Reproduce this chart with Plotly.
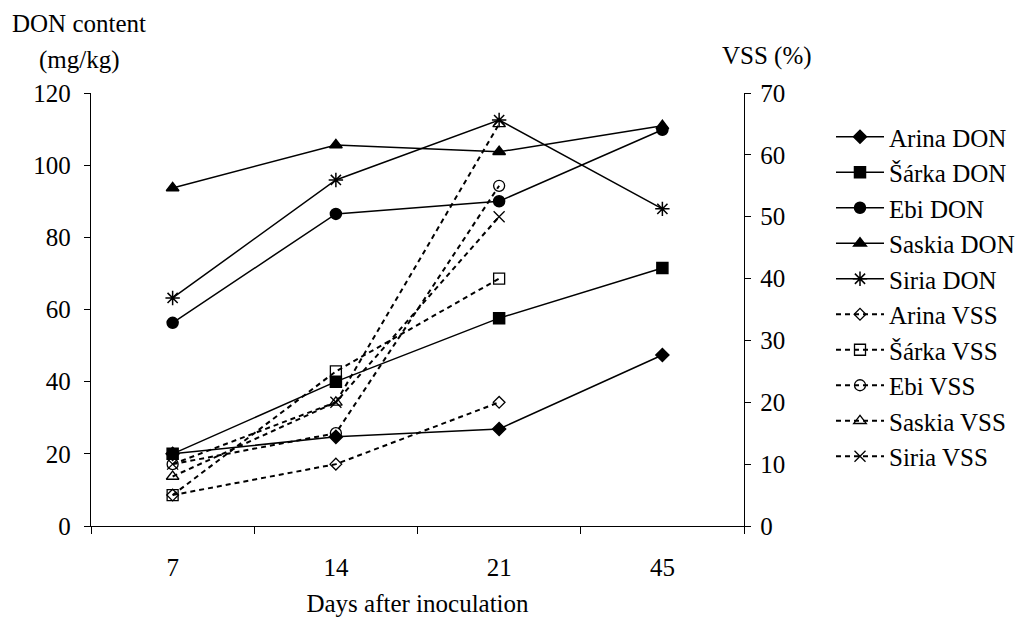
import plotly.graph_objects as go

days = ["7", "14", "21", "45"]

arina_don = [20.0, 24.7, 26.9, 47.4]
sarka_don = [20.0, 40.0, 57.6, 71.5]
ebi_don = [56.3, 86.5, 90.0, 109.8]
saskia_don = [93.7, 105.6, 103.7, 110.9]
siria_don = [63.2, 95.9, 112.5, 87.9]

vss_days = ["7", "14", "21"]
arina_vss = [5.0, 10.0, 20.0]
sarka_vss = [5.0, 25.0, 40.0]
ebi_vss = [10.0, 15.0, 55.0]
saskia_vss = [8.0, 20.0, 65.0]
siria_vss = [10.0, 20.0, 50.0]

don_names = ["Arina DON", "Šárka DON", "Ebi DON", "Saskia DON", "Siria DON"]
vss_names = ["Arina VSS", "Šárka VSS", "Ebi VSS", "Saskia VSS", "Siria VSS"]

FONT = "Liberation Serif"
FS = 25

fig = go.Figure()

don_series = [arina_don, sarka_don, ebi_don, saskia_don, siria_don]
don_symbols = ["diamond", "square", "circle", "triangle-up", "asterisk-open"]
don_sizes = [10, 11, 11, 11, 12]
for name, vals, sym, sz in zip(don_names, don_series, don_symbols, don_sizes):
    fig.add_trace(go.Scatter(
        x=days, y=vals, name=name, mode="lines+markers",
        line=dict(color="black", width=1.5),
        marker=dict(symbol=sym, size=sz, color="black",
                    line=dict(color="black", width=1.5)),
        yaxis="y",
    ))

vss_series = [arina_vss, sarka_vss, ebi_vss, saskia_vss, siria_vss]
vss_symbols = ["diamond-open", "square-open", "circle-open", "triangle-up-open", "x-thin-open"]
vss_sizes = [9, 11, 11, 11, 11]
for name, vals, sym, sz in zip(vss_names, vss_series, vss_symbols, vss_sizes):
    fig.add_trace(go.Scatter(
        x=vss_days, y=vals, name=name, mode="lines+markers",
        line=dict(color="black", width=2, dash="5px,4px"),
        marker=dict(symbol=sym, size=sz, color="black",
                    line=dict(color="black", width=1.3)),
        yaxis="y2",
    ))

OFF = 8  # default page body margin
W, H = 1016, 616
L, R, T, B = 83, 280, 85, 98
pw = W - L - R
ph = H - T - B

def px_x(p):
    return (p - OFF - L) / pw

def px_y(p):
    return (OFF + H - B - p) / ph

fig.update_layout(
    width=W, height=H,
    margin=dict(l=L, r=R, t=T, b=B, autoexpand=False),
    paper_bgcolor="white", plot_bgcolor="white",
    font=dict(family=FONT, size=FS, color="black"),
    showlegend=True,
    legend=dict(
        x=px_x(831), xanchor="left", y=px_y(114), yanchor="top",
        font=dict(family=FONT, size=FS, color="black"),
        tracegroupgap=0, bgcolor="rgba(0,0,0,0)", itemwidth=48,
    ),
    xaxis=dict(
        type="category", categoryorder="array", categoryarray=days,
        range=[-0.5, 3.5], showgrid=False, zeroline=False,
        showline=True, linecolor="black", linewidth=1.3,
        ticks="outside", tickson="boundaries", ticklen=7, tickwidth=1.3,
        tickcolor="black", ticklabelstandoff=19,
        title=dict(text="Days after inoculation", standoff=14,
                   font=dict(family=FONT, size=FS)),
    ),
    yaxis=dict(
        range=[0, 120], dtick=20, showgrid=False, zeroline=False,
        showline=True, linecolor="black", linewidth=1.3,
        ticks="outside", ticklen=6, tickwidth=1.3, tickcolor="black",
        ticklabelstandoff=8,
    ),
    yaxis2=dict(
        range=[0, 70], dtick=10, overlaying="y", side="right",
        showgrid=False, zeroline=False,
        showline=True, linecolor="black", linewidth=1.3,
        ticks="outside", ticklen=6, tickwidth=1.3, tickcolor="black",
        ticklabelstandoff=4,
    ),
    annotations=[
        dict(text="DON content", xref="paper", yref="paper",
             x=px_x(10), y=px_y(24), xanchor="left", yanchor="middle",
             showarrow=False, font=dict(family=FONT, size=FS)),
        dict(text="(mg/kg)", xref="paper", yref="paper",
             x=px_x(37), y=px_y(60), xanchor="left", yanchor="middle",
             showarrow=False, font=dict(family=FONT, size=FS)),
        dict(text="VSS (%)", xref="paper", yref="paper",
             x=px_x(720), y=px_y(56), xanchor="left", yanchor="middle",
             showarrow=False, font=dict(family=FONT, size=FS)),
    ],
)

fig.write_html("out.html")
